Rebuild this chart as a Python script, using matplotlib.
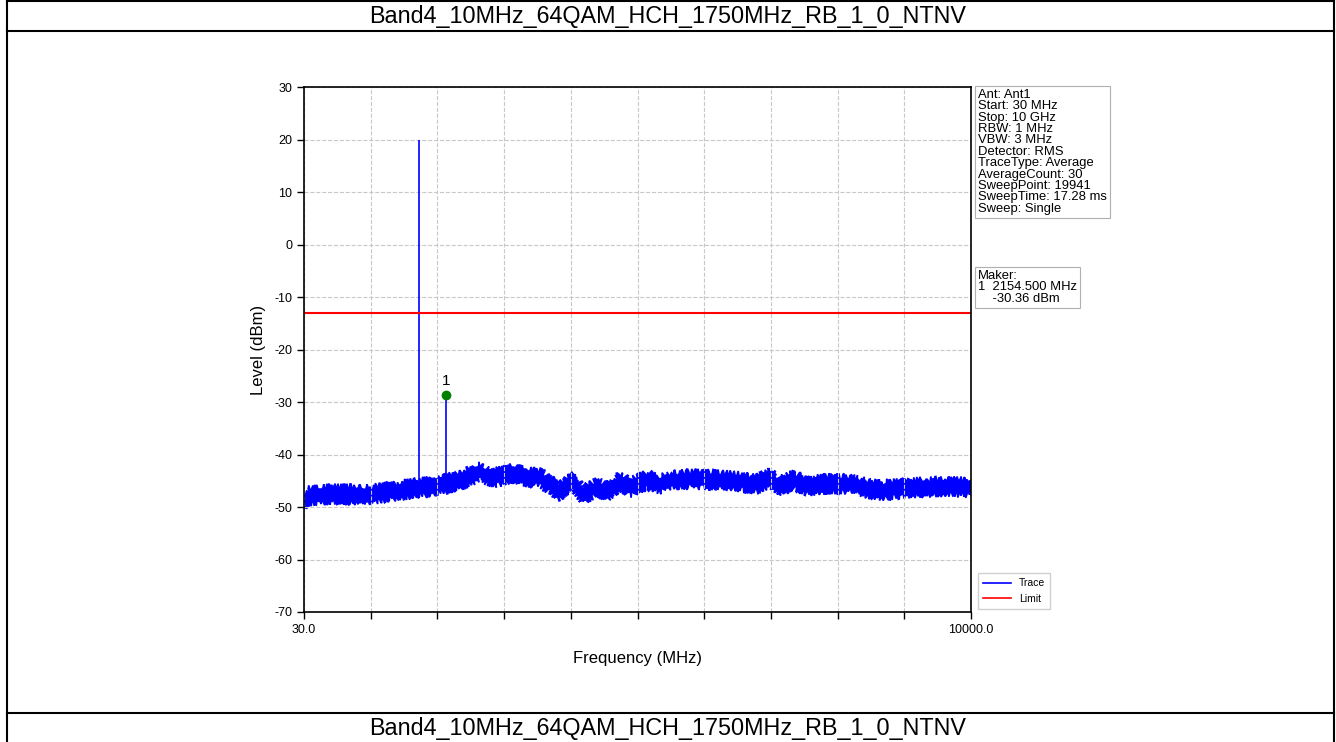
import numpy as np
import matplotlib
matplotlib.use("Agg")
import matplotlib.pyplot as plt
from matplotlib.lines import Line2D

plt.rcParams["font.family"] = ["Liberation Sans", "DejaVu Sans"]
plt.rcParams["axes.unicode_minus"] = False

# Test case name (header and caption rows)
CASE = "Band4_10MHz_64QAM_HCH_1750MHz_RB_1_0_NTNV"

# Noise floor of the trace (centre of the band)
freq_mhz = [30, 75, 463, 971, 1465, 1958, 2362, 2661, 2855, 3154, 3258, 3408,
            3558, 3707, 3827, 4051, 4200, 4409, 4559, 4753, 4903, 5157, 5351,
            5545, 5844, 6248, 6547, 6801, 6995, 7145, 7339, 7548, 7847, 8191,
            8445, 8684, 9043, 9342, 9641, 10000]
level_dbm = [-48.8, -47.9, -47.5, -47.7, -46.8, -46.0, -45.0, -43.3, -44.5,
             -43.5, -44.0, -44.3, -44.5, -45.8, -47.1, -45.2, -47.7, -46.2,
             -47.1, -45.2, -46.2, -44.9, -45.6, -44.9, -44.7, -44.9, -45.2,
             -45.6, -44.5, -46.0, -44.9, -46.0, -45.6, -45.6, -46.4, -46.8,
             -46.4, -46.2, -46.0, -46.4]
band_spread = 1.45  # dB, half thickness of the noisy trace

# Spikes: carrier and the marked spur
spike_freq = [1750.0, 2154.5]
spike_top = [20.0, -28.6]
spike_base = [-46.0, -45.5]

limit_dbm = -13.0
marker_freq = 2154.5
marker_level = -28.6

info_lines = ["Ant: Ant1", "Start: 30 MHz", "Stop: 10 GHz", "RBW: 1 MHz",
              "VBW: 3 MHz", "Detector: RMS", "TraceType: Average",
              "AverageCount: 30", "SweepPoint: 19941", "SweepTime: 17.28 ms",
              "Sweep: Single"]
marker_lines = ["Maker:", "1  2154.500 MHz", "    -30.36 dBm"]

W, H = 1336, 742
fig = plt.figure(figsize=(W / 100, H / 100), dpi=100)

# table frame around the chart
for y in (1 - 1 / H, 1 - 31 / H, 1 - 713 / H):
    fig.add_artist(Line2D([7 / W, 1334 / W], [y, y], color="black", lw=1.5))
for x in (7 / W, 1334 / W):
    fig.add_artist(Line2D([x, x], [0, 1], color="black", lw=1.5))
fig.text(0.5, 1 - 16 / H, CASE, ha="center", va="center", fontsize=16.8)
fig.text(0.5, 1 - 728 / H, CASE, ha="center", va="center", fontsize=16.8)

ax = fig.add_axes([304 / W, 1 - 612 / H, 667 / W, 525 / H])

f = np.array(freq_mhz)
lv = np.array(level_dbm)
# noisy trace drawn as a band; the sketch effect gives the ragged edge
band = ax.fill(np.r_[f, f[::-1]],
               np.r_[lv + band_spread, (lv - band_spread)[::-1]],
               color="blue", lw=1.2)[0]
band.set_sketch_params(scale=3.0, length=1.5, randomness=4.0)
ax.vlines(spike_freq, spike_base, spike_top, color="blue", lw=1.2)
ax.axhline(limit_dbm, color="red", lw=1.5)
ax.plot(marker_freq, marker_level, "o", color="green", ms=6)
ax.text(marker_freq, marker_level + 1.3, "1", ha="center", va="bottom",
        fontsize=11)

ax.set_xlim(30, 10000)
ax.set_ylim(-70, 30)
xt = np.linspace(30, 10000, 11)
ax.set_xticks(xt)
ax.set_xticklabels(["30.0"] + [""] * 9 + ["10000.0"], fontsize=9)
ax.set_yticks(np.arange(-70, 31, 10))
ax.tick_params(axis="y", labelsize=9)
ax.tick_params(direction="out", length=5, width=1)
ax.grid(True, color="#c8c8c8", ls="--", lw=0.8)
for s in ax.spines.values():
    s.set_linewidth(1.2)

ax.set_xlabel("Frequency (MHz)", fontsize=12, labelpad=11)
ax.set_ylabel("Level (dBm)", fontsize=12, labelpad=6)

box = dict(boxstyle="square,pad=0.25", fc="white", ec="#b0b0b0", lw=0.8)
fig.text(978 / W, 1 - 89 / H, "\n".join(info_lines), ha="left", va="top",
         fontsize=9.4, linespacing=0.93, bbox=box)
fig.text(978 / W, 1 - 270 / H, "\n".join(marker_lines), ha="left", va="top",
         fontsize=9.4, linespacing=0.93, bbox=box)

handles = [Line2D([], [], color="blue", lw=1.2),
           Line2D([], [], color="red", lw=1.2)]
leg = fig.legend(handles, ["Trace", "Limit"], loc="lower left",
                 bbox_to_anchor=(973 / W, 1 - 614 / H), fontsize=7.5,
                 fancybox=False, framealpha=1, handlelength=2.6,
                 borderpad=0.5, labelspacing=0.5)
leg.get_frame().set_edgecolor("#d0d0d0")

fig.savefig("out.png", dpi=100)
